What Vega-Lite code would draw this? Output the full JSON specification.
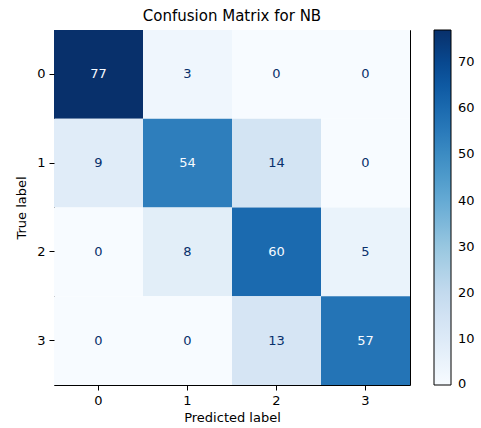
{
  "$schema": "https://vega.github.io/schema/vega-lite/v6.json",
  "autosize": "none",
  "width": 356,
  "height": 355,
  "padding": {"left": 54, "top": 30, "right": 71, "bottom": 43},
  "background": "white",
  "config": {
    "font": "DejaVu Sans",
    "view": {"stroke": "black", "strokeWidth": 1},
    "axis": {"labelFont": "DejaVu Sans", "titleFont": "DejaVu Sans", "labelFontSize": 13, "titleFontSize": 13, "labelColor": "#000", "titleColor": "#000", "titleFontWeight": "normal", "tickColor": "#000", "tickSize": 5, "domain": false, "grid": false, "labelPadding": 4}
  },
  "title": {"text": "Confusion Matrix for NB", "font": "DejaVu Sans", "fontSize": 15, "fontWeight": "normal", "color": "#000", "offset": 6},
  "data": {"values": [
    {"t": 0, "p": 0, "v": 77}, {"t": 0, "p": 1, "v": 3}, {"t": 0, "p": 2, "v": 0}, {"t": 0, "p": 3, "v": 0},
    {"t": 1, "p": 0, "v": 9}, {"t": 1, "p": 1, "v": 54}, {"t": 1, "p": 2, "v": 14}, {"t": 1, "p": 3, "v": 0},
    {"t": 2, "p": 0, "v": 0}, {"t": 2, "p": 1, "v": 8}, {"t": 2, "p": 2, "v": 60}, {"t": 2, "p": 3, "v": 5},
    {"t": 3, "p": 0, "v": 0}, {"t": 3, "p": 1, "v": 0}, {"t": 3, "p": 2, "v": 13}, {"t": 3, "p": 3, "v": 57}
  ]},
  "encoding": {
    "x": {"field": "p", "type": "ordinal", "title": "Predicted label", "scale": {"paddingInner": 0, "paddingOuter": 0}, "axis": {"labelAngle": 0, "titlePadding": 4}},
    "y": {"field": "t", "type": "ordinal", "title": "True label", "scale": {"paddingInner": 0, "paddingOuter": 0}, "axis": {"titlePadding": 8}}
  },
  "layer": [
    {
      "mark": {"type": "rect"},
      "encoding": {
        "color": {
          "field": "v", "type": "quantitative",
          "scale": {
            "domain": [0, 9.625, 19.25, 28.875, 38.5, 48.125, 57.75, 67.375, 77],
            "range": ["#f7fbff", "#deebf7", "#c6dbef", "#9ecae1", "#6baed6", "#4292c6", "#2171b5", "#08519c", "#08306b"],
            "interpolate": "rgb"
          },
          "legend": {
            "title": null,
            "values": [0.3, 10, 20, 30, 40, 50, 60, 70],
            "labelExpr": "format(round(datum.value), 'd')",
            "gradientLength": 355,
            "gradientThickness": 17,
            "gradientStrokeColor": "black",
            "gradientStrokeWidth": 1,
            "offset": 24,
            "labelFont": "DejaVu Sans",
            "labelFontSize": 13,
            "labelColor": "#000",
            "labelOffset": 7,
            "labelBaseline": "middle",
            "padding": 0
          }
        }
      }
    },
    {
      "mark": {"type": "text", "fontSize": 13, "font": "DejaVu Sans"},
      "encoding": {
        "text": {"field": "v", "type": "quantitative"},
        "color": {"condition": {"test": "datum.v > 38.5", "value": "#f7fbff"}, "value": "#08306b"}
      }
    }
  ]
}
